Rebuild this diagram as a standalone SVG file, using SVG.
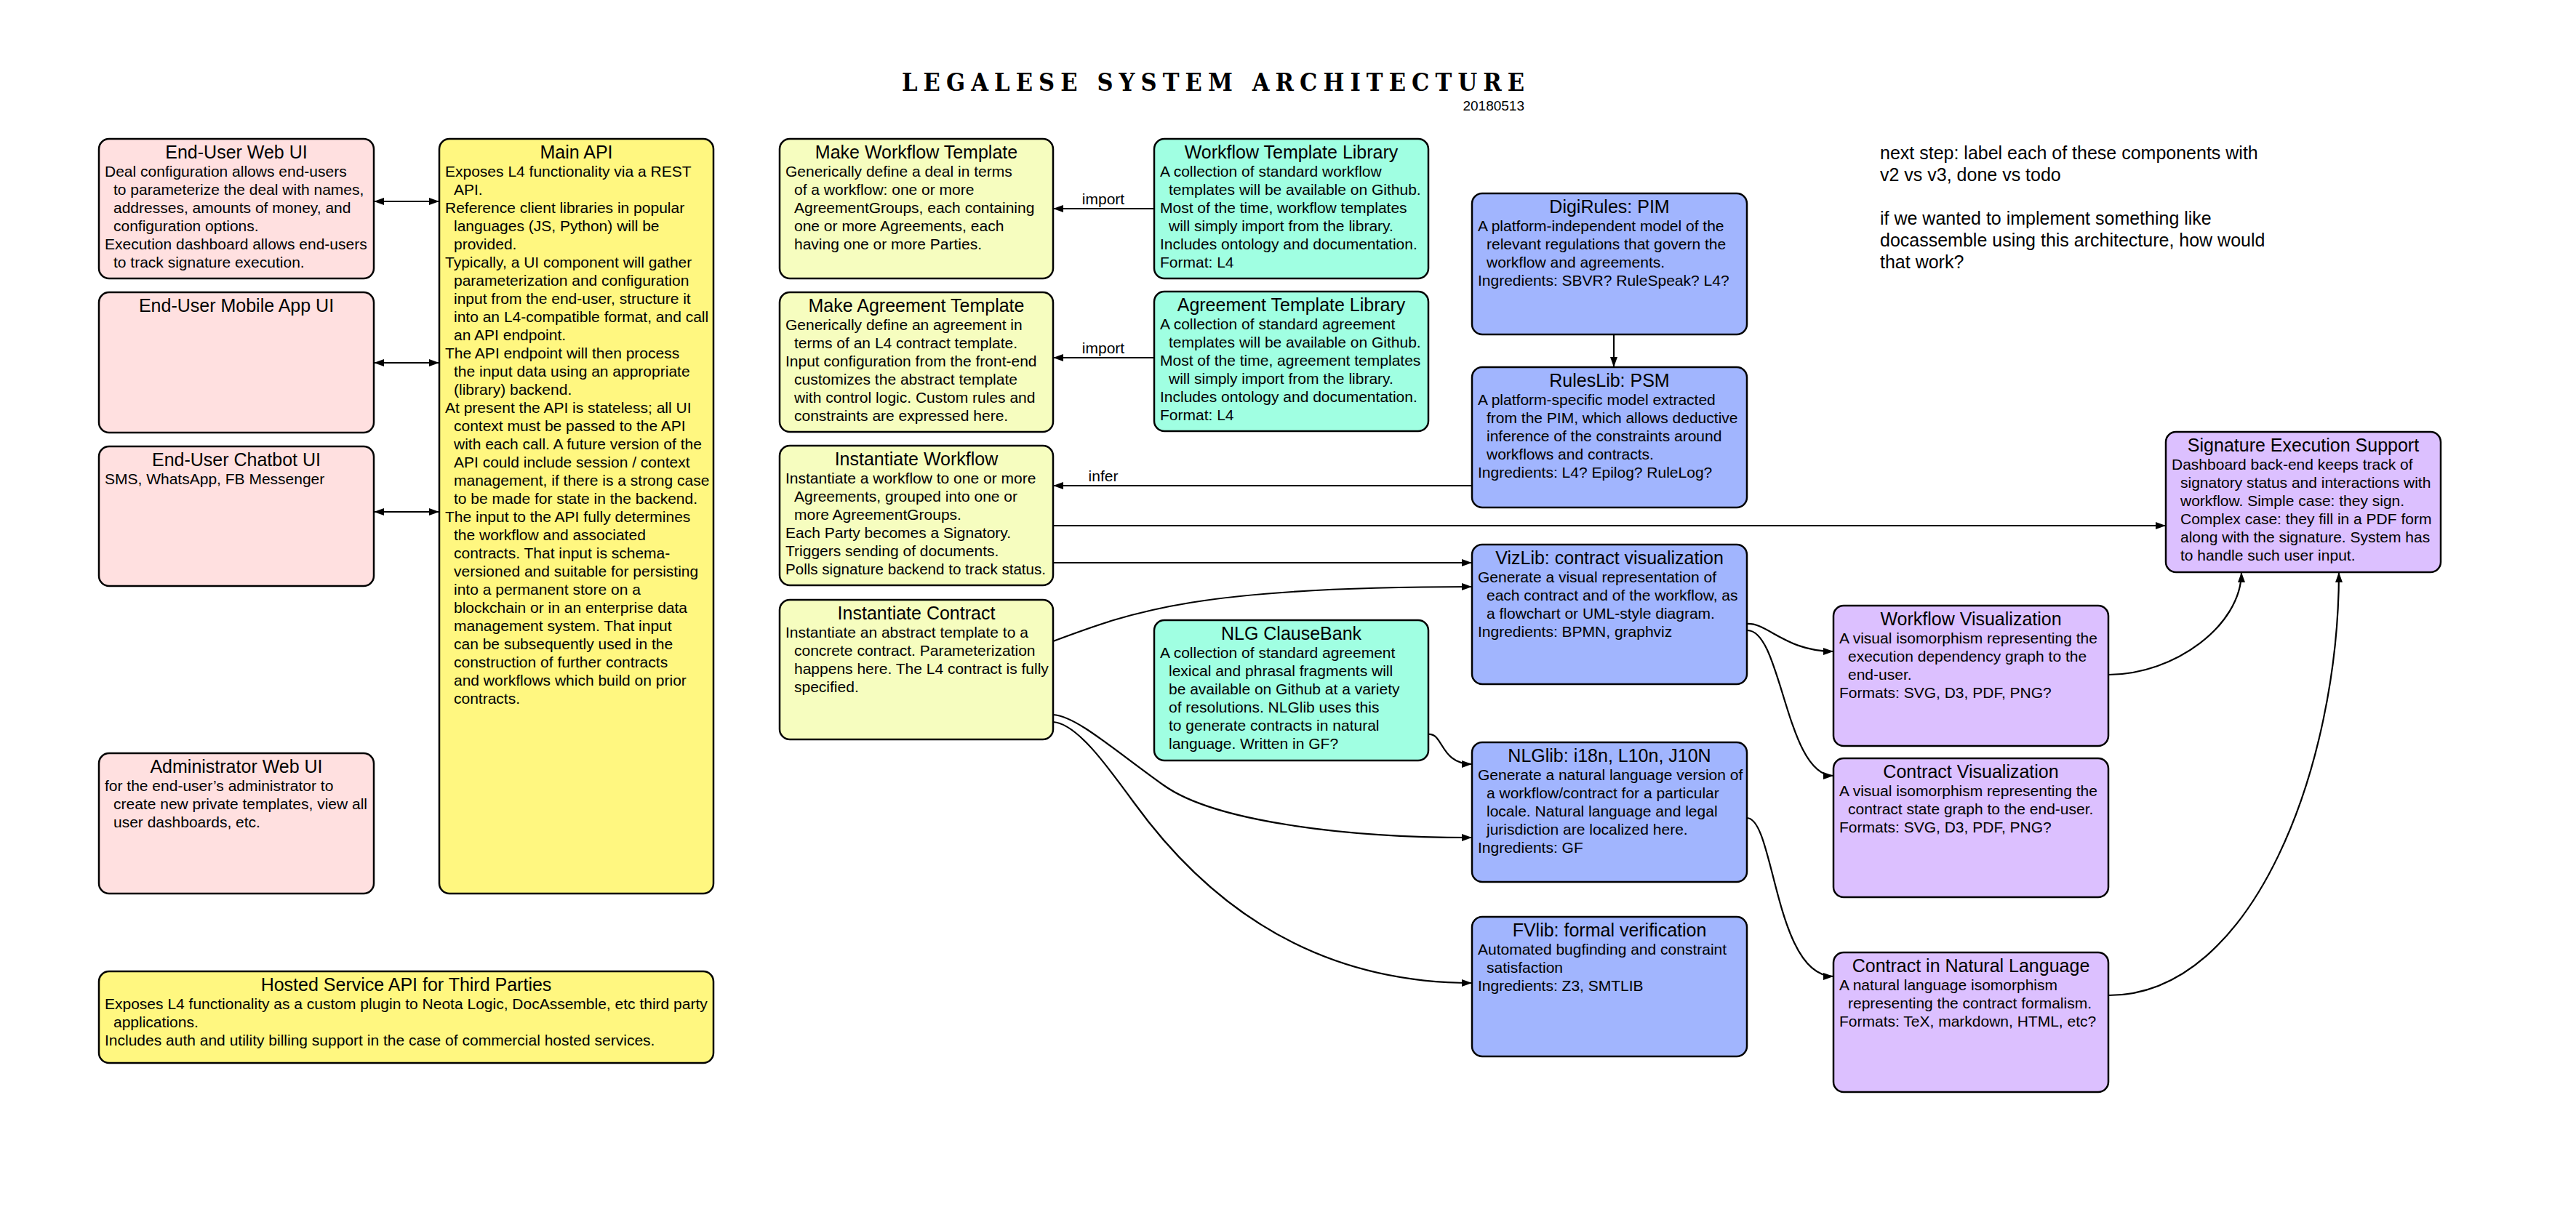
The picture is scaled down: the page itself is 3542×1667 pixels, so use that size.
<svg xmlns="http://www.w3.org/2000/svg" width="3542" height="1667" viewBox="0 0 3542 1667">
<defs>
<style>
.box{stroke:#000;stroke-width:2.5}
.pink{fill:#ffe0e0}
.yel{fill:#fff780}
.lyel{fill:#f6fdbf}
.mint{fill:#a0ffe2}
.blue{fill:#a1b5fe}
.purp{fill:#dcc0ff}
.tt{font-family:"Liberation Sans",Arial,sans-serif;font-size:25px;text-anchor:middle;fill:#000}
.bd{font-family:"Liberation Sans",Arial,sans-serif;font-size:21px;fill:#000}
.lbl{font-family:"Liberation Sans",Arial,sans-serif;font-size:21px;fill:#000;text-anchor:middle}
.note{font-family:"Liberation Sans",Arial,sans-serif;font-size:25px;fill:#000}
.edge{fill:none;stroke:#000;stroke-width:2.2}
</style>
<marker id="ah" viewBox="0 0 14 10" refX="14" refY="5" markerWidth="14" markerHeight="10" markerUnits="userSpaceOnUse" orient="auto-start-reverse">
<path d="M0,0 L14,5 L0,10 z" fill="#000"/>
</marker>
</defs>
<rect x="0" y="0" width="3542" height="1667" fill="#fff"/>

<g id="title">
<text x="1240" y="125" font-family="'DejaVu Serif Condensed','DejaVu Serif',serif" font-weight="bold" font-stretch="condensed" font-size="34" textLength="856" lengthAdjust="spacing">LEGALESE SYSTEM ARCHITECTURE</text>
<text x="2096" y="152" font-family="'Liberation Sans',Arial,sans-serif" font-size="19" text-anchor="end">20180513</text>
</g>

<g id="notes">
<text class="note" x="2585" y="219">next step: label each of these components with</text>
<text class="note" x="2585" y="249">v2 vs v3, done vs todo</text>
<text class="note" x="2585" y="309">if we wanted to implement something like</text>
<text class="note" x="2585" y="339">docassemble using this architecture, how would</text>
<text class="note" x="2585" y="369">that work?</text>
</g>

<g id="connectors">
<path class="edge" d="M514,277 L604,277" marker-start="url(#ah)" marker-end="url(#ah)"/>
<path class="edge" d="M514,499 L604,499" marker-start="url(#ah)" marker-end="url(#ah)"/>
<path class="edge" d="M514,704 L604,704" marker-start="url(#ah)" marker-end="url(#ah)"/>
<path class="edge" d="M1587,287 L1448,287" marker-end="url(#ah)"/>
<text class="lbl" x="1517" y="281">import</text>
<path class="edge" d="M1587,492 L1448,492" marker-end="url(#ah)"/>
<text class="lbl" x="1517" y="486">import</text>
<path class="edge" d="M2024,668 L1448,668" marker-end="url(#ah)"/>
<text class="lbl" x="1517" y="662">infer</text>
<path class="edge" d="M1448,723 L2978,723" marker-end="url(#ah)"/>
<path class="edge" d="M1448,774 L2024,774" marker-end="url(#ah)"/>
<path class="edge" d="M1448,882 C1560,840 1650,807 2024,807" marker-end="url(#ah)"/>
<path class="edge" d="M2219,460 L2219,505" marker-end="url(#ah)"/>
<path class="edge" d="M1964,1010 C1985,1008 1980,1051 2024,1051" marker-end="url(#ah)"/>
<path class="edge" d="M1448,983 C1480,985 1530,1030 1600,1080 C1670,1130 1850,1152 2024,1152" marker-end="url(#ah)"/>
<path class="edge" d="M1448,993 C1480,995 1520,1050 1560,1105 C1640,1215 1780,1352 2024,1352" marker-end="url(#ah)"/>
<path class="edge" d="M2402,858 C2430,856 2455,896 2521,896" marker-end="url(#ah)"/>
<path class="edge" d="M2402,867 C2450,865 2455,1067 2521,1067" marker-end="url(#ah)"/>
<path class="edge" d="M2402,1125 C2440,1125 2440,1343 2521,1343" marker-end="url(#ah)"/>
<path class="edge" d="M2899,928 C2990,928 3082,860 3082,787" marker-end="url(#ah)"/>
<path class="edge" d="M2899,1369 C3100,1369 3216,1050 3216,787" marker-end="url(#ah)"/>
</g>

<g id="n-webui">
<rect class="box pink" x="136" y="191" width="378" height="192" rx="14"/>
<text class="tt" x="325" y="218">End-User Web UI</text>
<text class="bd" y="243"><tspan x="144">Deal configuration allows end-users</tspan><tspan x="156" dy="25">to parameterize the deal with names,</tspan><tspan x="156" dy="25">addresses, amounts of money, and</tspan><tspan x="156" dy="25">configuration options.</tspan><tspan x="144" dy="25">Execution dashboard allows end-users</tspan><tspan x="156" dy="25">to track signature execution.</tspan></text>
</g>

<g id="n-mobile">
<rect class="box pink" x="136" y="402" width="378" height="193" rx="14"/>
<text class="tt" x="325" y="429">End-User Mobile App UI</text>
</g>

<g id="n-chatbot">
<rect class="box pink" x="136" y="614" width="378" height="192" rx="14"/>
<text class="tt" x="325" y="641">End-User Chatbot UI</text>
<text class="bd" x="144" y="666">SMS, WhatsApp, FB Messenger</text>
</g>

<g id="n-admin">
<rect class="box pink" x="136" y="1036" width="378" height="193" rx="14"/>
<text class="tt" x="325" y="1063">Administrator Web UI</text>
<text class="bd" y="1088"><tspan x="144">for the end-user’s administrator to</tspan><tspan x="156" dy="25">create new private templates, view all</tspan><tspan x="156" dy="25">user dashboards, etc.</tspan></text>
</g>

<g id="n-mainapi">
<rect class="box yel" x="604" y="191" width="377" height="1038" rx="14"/>
<text class="tt" x="792.5" y="218">Main API</text>
<text class="bd" y="243"><tspan x="612">Exposes L4 functionality via a REST</tspan><tspan x="624" dy="25">API.</tspan><tspan x="612" dy="25">Reference client libraries in popular</tspan><tspan x="624" dy="25">languages (JS, Python) will be</tspan><tspan x="624" dy="25">provided.</tspan><tspan x="612" dy="25">Typically, a UI component will gather</tspan><tspan x="624" dy="25">parameterization and configuration</tspan><tspan x="624" dy="25">input from the end-user, structure it</tspan><tspan x="624" dy="25">into an L4-compatible format, and call</tspan><tspan x="624" dy="25">an API endpoint.</tspan><tspan x="612" dy="25">The API endpoint will then process</tspan><tspan x="624" dy="25">the input data using an appropriate</tspan><tspan x="624" dy="25">(library) backend.</tspan><tspan x="612" dy="25">At present the API is stateless; all UI</tspan><tspan x="624" dy="25">context must be passed to the API</tspan><tspan x="624" dy="25">with each call. A future version of the</tspan><tspan x="624" dy="25">API could include session / context</tspan><tspan x="624" dy="25">management, if there is a strong case</tspan><tspan x="624" dy="25">to be made for state in the backend.</tspan><tspan x="612" dy="25">The input to the API fully determines</tspan><tspan x="624" dy="25">the workflow and associated</tspan><tspan x="624" dy="25">contracts. That input is schema-</tspan><tspan x="624" dy="25">versioned and suitable for persisting</tspan><tspan x="624" dy="25">into a permanent store on a</tspan><tspan x="624" dy="25">blockchain or in an enterprise data</tspan><tspan x="624" dy="25">management system. That input</tspan><tspan x="624" dy="25">can be subsequently used in the</tspan><tspan x="624" dy="25">construction of further contracts</tspan><tspan x="624" dy="25">and workflows which build on prior</tspan><tspan x="624" dy="25">contracts.</tspan></text>
</g>

<g id="n-hosted">
<rect class="box yel" x="136" y="1336" width="845" height="126" rx="14"/>
<text class="tt" x="558.5" y="1363">Hosted Service API for Third Parties</text>
<text class="bd" y="1388"><tspan x="144">Exposes L4 functionality as a custom plugin to Neota Logic, DocAssemble, etc third party</tspan><tspan x="156" dy="25">applications.</tspan><tspan x="144" dy="25">Includes auth and utility billing support in the case of commercial hosted services.</tspan></text>
</g>

<g id="n-mwt">
<rect class="box lyel" x="1072" y="191" width="376" height="192" rx="14"/>
<text class="tt" x="1260" y="218">Make Workflow Template</text>
<text class="bd" y="243"><tspan x="1080">Generically define a deal in terms</tspan><tspan x="1092" dy="25">of a workflow: one or more</tspan><tspan x="1092" dy="25">AgreementGroups, each containing</tspan><tspan x="1092" dy="25">one or more Agreements, each</tspan><tspan x="1092" dy="25">having one or more Parties.</tspan></text>
</g>

<g id="n-mat">
<rect class="box lyel" x="1072" y="402" width="376" height="192" rx="14"/>
<text class="tt" x="1260" y="429">Make Agreement Template</text>
<text class="bd" y="454"><tspan x="1080">Generically define an agreement in</tspan><tspan x="1092" dy="25">terms of an L4 contract template.</tspan><tspan x="1080" dy="25">Input configuration from the front-end</tspan><tspan x="1092" dy="25">customizes the abstract template</tspan><tspan x="1092" dy="25">with control logic. Custom rules and</tspan><tspan x="1092" dy="25">constraints are expressed here.</tspan></text>
</g>

<g id="n-iw">
<rect class="box lyel" x="1072" y="613" width="376" height="192" rx="14"/>
<text class="tt" x="1260" y="640">Instantiate Workflow</text>
<text class="bd" y="665"><tspan x="1080">Instantiate a workflow to one or more</tspan><tspan x="1092" dy="25">Agreements, grouped into one or</tspan><tspan x="1092" dy="25">more AgreementGroups.</tspan><tspan x="1080" dy="25">Each Party becomes a Signatory.</tspan><tspan x="1080" dy="25">Triggers sending of documents.</tspan><tspan x="1080" dy="25" textLength="358" lengthAdjust="spacingAndGlyphs">Polls signature backend to track status.</tspan></text>
</g>

<g id="n-ic">
<rect class="box lyel" x="1072" y="825" width="376" height="192" rx="14"/>
<text class="tt" x="1260" y="852">Instantiate Contract</text>
<text class="bd" y="877"><tspan x="1080">Instantiate an abstract template to a</tspan><tspan x="1092" dy="25">concrete contract. Parameterization</tspan><tspan x="1092" dy="25">happens here. The L4 contract is fully</tspan><tspan x="1092" dy="25">specified.</tspan></text>
</g>

<g id="n-wtl">
<rect class="box mint" x="1587" y="191" width="377" height="192" rx="14"/>
<text class="tt" x="1775.5" y="218">Workflow Template Library</text>
<text class="bd" y="243"><tspan x="1595">A collection of standard workflow</tspan><tspan x="1607" dy="25">templates will be available on Github.</tspan><tspan x="1595" dy="25">Most of the time, workflow templates</tspan><tspan x="1607" dy="25">will simply import from the library.</tspan><tspan x="1595" dy="25">Includes ontology and documentation.</tspan><tspan x="1595" dy="25">Format: L4</tspan></text>
</g>

<g id="n-atl">
<rect class="box mint" x="1587" y="401" width="377" height="192" rx="14"/>
<text class="tt" x="1775.5" y="428">Agreement Template Library</text>
<text class="bd" y="453"><tspan x="1595">A collection of standard agreement</tspan><tspan x="1607" dy="25">templates will be available on Github.</tspan><tspan x="1595" dy="25">Most of the time, agreement templates</tspan><tspan x="1607" dy="25">will simply import from the library.</tspan><tspan x="1595" dy="25">Includes ontology and documentation.</tspan><tspan x="1595" dy="25">Format: L4</tspan></text>
</g>

<g id="n-clausebank">
<rect class="box mint" x="1587" y="853" width="377" height="193" rx="14"/>
<text class="tt" x="1775.5" y="880">NLG ClauseBank</text>
<text class="bd" y="905"><tspan x="1595">A collection of standard agreement</tspan><tspan x="1607" dy="25">lexical and phrasal fragments will</tspan><tspan x="1607" dy="25">be available on Github at a variety</tspan><tspan x="1607" dy="25">of resolutions. NLGlib uses this</tspan><tspan x="1607" dy="25">to generate contracts in natural</tspan><tspan x="1607" dy="25">language. Written in GF?</tspan></text>
</g>

<g id="n-digirules">
<rect class="box blue" x="2024" y="266" width="378" height="194" rx="14"/>
<text class="tt" x="2213" y="293">DigiRules: PIM</text>
<text class="bd" y="318"><tspan x="2032">A platform-independent model of the</tspan><tspan x="2044" dy="25">relevant regulations that govern the</tspan><tspan x="2044" dy="25">workflow and agreements.</tspan><tspan x="2032" dy="25">Ingredients: SBVR? RuleSpeak? L4?</tspan></text>
</g>

<g id="n-ruleslib">
<rect class="box blue" x="2024" y="505" width="378" height="193" rx="14"/>
<text class="tt" x="2213" y="532">RulesLib: PSM</text>
<text class="bd" y="557"><tspan x="2032">A platform-specific model extracted</tspan><tspan x="2044" dy="25">from the PIM, which allows deductive</tspan><tspan x="2044" dy="25">inference of the constraints around</tspan><tspan x="2044" dy="25">workflows and contracts.</tspan><tspan x="2032" dy="25">Ingredients: L4? Epilog? RuleLog?</tspan></text>
</g>

<g id="n-vizlib">
<rect class="box blue" x="2024" y="749" width="378" height="192" rx="14"/>
<text class="tt" x="2213" y="776">VizLib: contract visualization</text>
<text class="bd" y="801"><tspan x="2032">Generate a visual representation of</tspan><tspan x="2044" dy="25">each contract and of the workflow, as</tspan><tspan x="2044" dy="25">a flowchart or UML-style diagram.</tspan><tspan x="2032" dy="25">Ingredients: BPMN, graphviz</tspan></text>
</g>

<g id="n-nlglib">
<rect class="box blue" x="2024" y="1021" width="378" height="192" rx="14"/>
<text class="tt" x="2213" y="1048">NLGlib: i18n, L10n, J10N</text>
<text class="bd" y="1073"><tspan x="2032">Generate a natural language version of</tspan><tspan x="2044" dy="25">a workflow/contract for a particular</tspan><tspan x="2044" dy="25">locale. Natural language and legal</tspan><tspan x="2044" dy="25">jurisdiction are localized here.</tspan><tspan x="2032" dy="25">Ingredients: GF</tspan></text>
</g>

<g id="n-fvlib">
<rect class="box blue" x="2024" y="1261" width="378" height="192" rx="14"/>
<text class="tt" x="2213" y="1288">FVlib: formal verification</text>
<text class="bd" y="1313"><tspan x="2032">Automated bugfinding and constraint</tspan><tspan x="2044" dy="25">satisfaction</tspan><tspan x="2032" dy="25">Ingredients: Z3, SMTLIB</tspan></text>
</g>

<g id="n-wfviz">
<rect class="box purp" x="2521" y="833" width="378" height="193" rx="14"/>
<text class="tt" x="2710" y="860">Workflow Visualization</text>
<text class="bd" y="885"><tspan x="2529">A visual isomorphism representing the</tspan><tspan x="2541" dy="25">execution dependency graph to the</tspan><tspan x="2541" dy="25">end-user.</tspan><tspan x="2529" dy="25">Formats: SVG, D3, PDF, PNG?</tspan></text>
</g>

<g id="n-cviz">
<rect class="box purp" x="2521" y="1043" width="378" height="191" rx="14"/>
<text class="tt" x="2710" y="1070">Contract Visualization</text>
<text class="bd" y="1095"><tspan x="2529">A visual isomorphism representing the</tspan><tspan x="2541" dy="25">contract state graph to the end-user.</tspan><tspan x="2529" dy="25">Formats: SVG, D3, PDF, PNG?</tspan></text>
</g>

<g id="n-cnl">
<rect class="box purp" x="2521" y="1310" width="378" height="192" rx="14"/>
<text class="tt" x="2710" y="1337">Contract in Natural Language</text>
<text class="bd" y="1362"><tspan x="2529">A natural language isomorphism</tspan><tspan x="2541" dy="25">representing the contract formalism.</tspan><tspan x="2529" dy="25">Formats: TeX, markdown, HTML, etc?</tspan></text>
</g>

<g id="n-sig">
<rect class="box purp" x="2978" y="594" width="378" height="193" rx="14"/>
<text class="tt" x="3167" y="621">Signature Execution Support</text>
<text class="bd" y="646"><tspan x="2986">Dashboard back-end keeps track of</tspan><tspan x="2998" dy="25">signatory status and interactions with</tspan><tspan x="2998" dy="25">workflow. Simple case: they sign.</tspan><tspan x="2998" dy="25">Complex case: they fill in a PDF form</tspan><tspan x="2998" dy="25">along with the signature. System has</tspan><tspan x="2998" dy="25">to handle such user input.</tspan></text>
</g>
</svg>
